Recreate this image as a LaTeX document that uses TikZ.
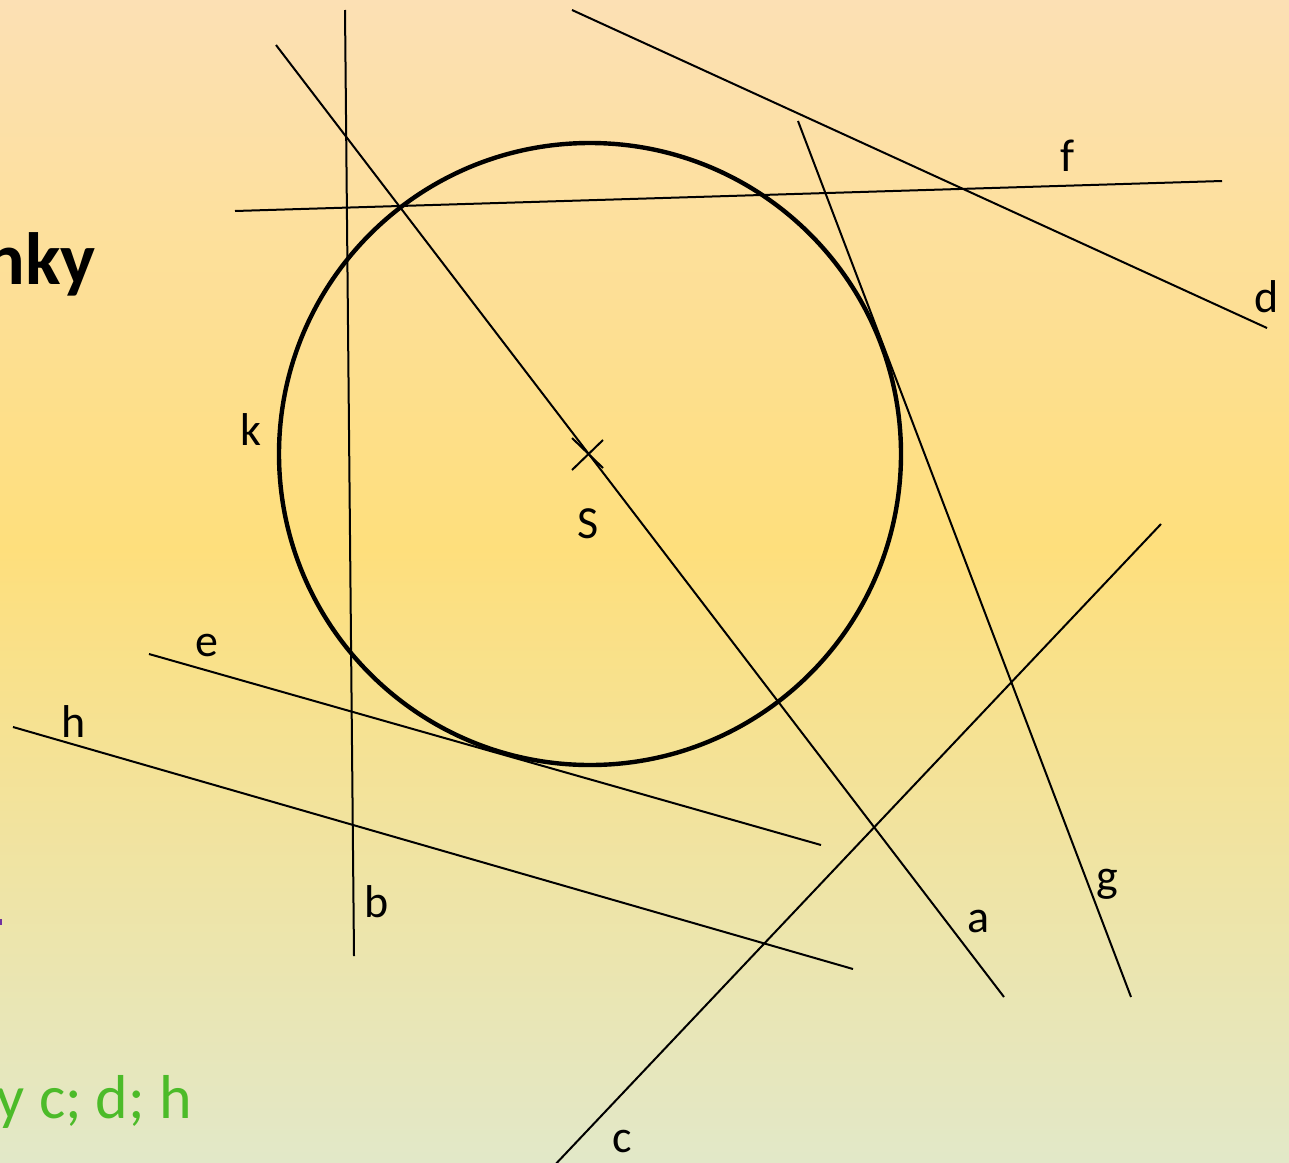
\documentclass[tikz,border=0pt]{standalone}
\usepackage{fontspec}
\setmainfont{Carlito}
\definecolor{bgtop}{RGB}{252,224,180}
\definecolor{bgmid}{RGB}{254,223,124}
\definecolor{bgbot}{RGB}{226,232,200}
\definecolor{txtgreen}{RGB}{76,187,41}
\definecolor{txtpurple}{RGB}{112,48,160}
\begin{document}
\begin{tikzpicture}[x=0.5pt,y=-0.5pt,
  ln/.style={line width=1pt, black},
  lbl/.style={font=\fontsize{23}{27}\selectfont, inner sep=0pt, black}]
\useasboundingbox (0,0) rectangle (1289,1162);
\clip (0,0) rectangle (1289,1162);
\shade[top color=bgtop, bottom color=bgmid] (0,0) rectangle (1289,549);
\shade[top color=bgmid, bottom color=bgbot] (0,548) rectangle (1289,1162);

% endpoints
\coordinate (a1) at (276,45);   \coordinate (a2) at (1004,997);
\coordinate (b1) at (345,10);   \coordinate (b2) at (354,956);
\coordinate (c1) at (1161,524); \coordinate (c2) at (551,1169);
\coordinate (d1) at (572,10);   \coordinate (d2) at (1267,328);
\coordinate (e1) at (149,654);  \coordinate (e2) at (821,845);
\coordinate (f1) at (235,211);  \coordinate (f2) at (1222,181);
\coordinate (g1) at (798,121);  \coordinate (g2) at (1131,997);
\coordinate (h1) at (13,727);   \coordinate (h2) at (853,969);
\coordinate (S) at (588,454);
\coordinate (x1) at (572,438);  \coordinate (x2) at (603,468);
\coordinate (x3) at (603,440);  \coordinate (x4) at (572,470);

% circle k
\draw[line width=2.2pt] (590,454) circle[radius=155.5pt];

% lines
\draw[ln] (a1) -- (a2);
\draw[ln] (b1) -- (b2);
\draw[ln] (c1) -- (c2);
\draw[ln] (d1) -- (d2);
\draw[ln] (e1) -- (e2);
\draw[ln] (f1) -- (f2);
\draw[ln] (g1) -- (g2);
\draw[ln] (h1) -- (h2);
\draw[ln] (x1) -- (x2);
\draw[ln] (x3) -- (x4);

% labels
\node[lbl] (la) at (979,921) {a};
\node[lbl] (lb) at (377,902) {b};
\node[lbl] (lc) at (622,1141) {c};
\node[lbl] (ld) at (1267,297) {d};
\node[lbl] (le) at (207,645) {e};
\node[lbl] (lf) at (1068,156) {f};
\node[lbl] (lg) at (1107,884) {g};
\node[lbl] (lh) at (74,722) {h};
\node[lbl] (lk) at (251,430) {k};
\node[lbl] (lS) at (588,524) {S};

% cut-off slide texts
\node[font=\fontsize{37}{41}\selectfont\bfseries, inner sep=0pt, anchor=base east] (title) at (96,284) {nky};
\node[font=\fontsize{31}{35}\selectfont, text=txtgreen, inner sep=0pt, anchor=base east] (answer) at (192,1118) {y c; d; h};
\fill[txtpurple] (0,919) rectangle (2,925);
\end{tikzpicture}
\end{document}
